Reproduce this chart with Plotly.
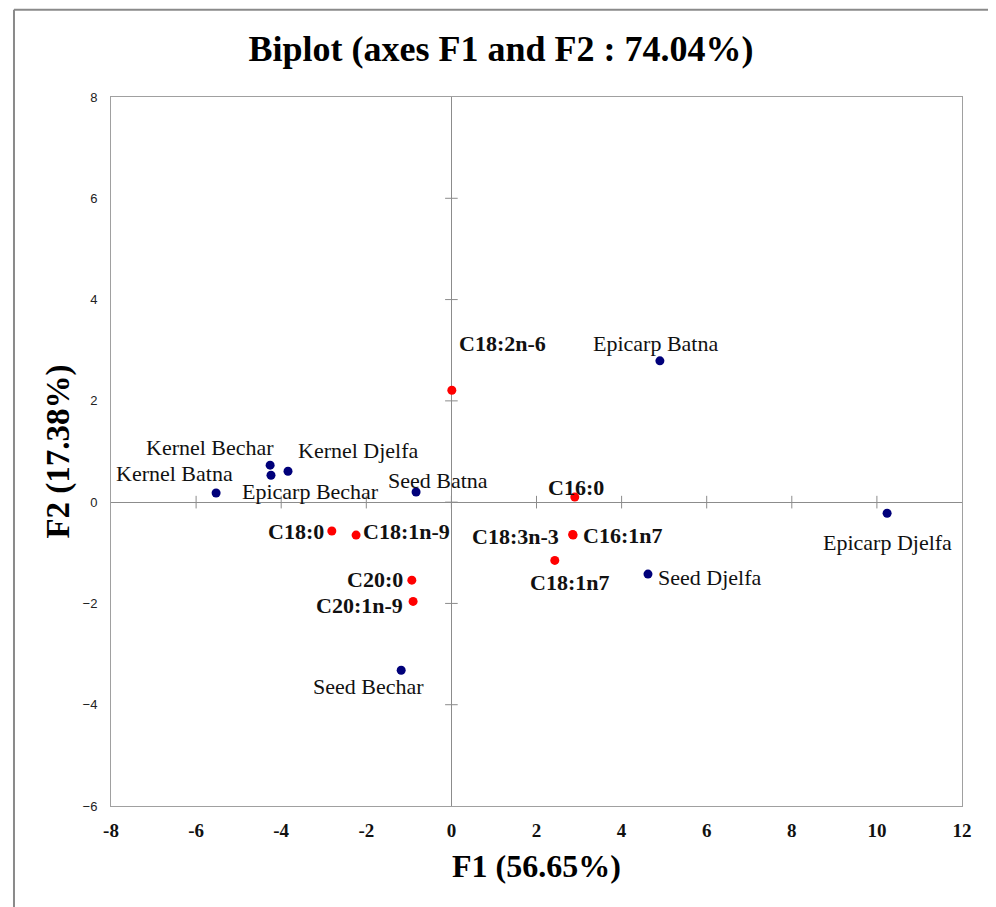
import plotly.graph_objects as go

# Observations (samples)
obs_names = ["Kernel Batna", "Kernel Bechar", "Epicarp Bechar", "Kernel Djelfa", "Seed Batna",
             "Epicarp Batna", "Epicarp Djelfa", "Seed Djelfa", "Seed Bechar"]
obs_f1 = [-5.53, -4.26, -4.24, -3.84, -0.83, 4.90, 10.24, 4.62, -1.18]
obs_f2 = [0.18, 0.73, 0.53, 0.61, 0.20, 2.79, -0.22, -1.42, -3.32]

# Variables (fatty acids)
var_names = ["C18:2n-6", "C16:0", "C18:3n-3", "C16:1n7", "C18:1n7", "C18:0", "C18:1n-9", "C20:0", "C20:1n-9"]
var_f1 = [0.01, 2.90, 2.85, 2.86, 2.43, -2.81, -2.24, -0.93, -0.90]
var_f2 = [2.21, 0.10, -0.64, -0.65, -1.15, -0.57, -0.65, -1.54, -1.96]

x_ticks = [-8, -6, -4, -2, 0, 2, 4, 6, 8, 10, 12]
y_ticks = [-6, -4, -2, 0, 2, 4, 6, 8]

title_text = "Biplot (axes F1 and F2 : 74.04%)"
x_title = "F1 (56.65%)"
y_title = "F2 (17.38%)"

# label placement: (xanchor, xshift, yshift)
obs_label_pos = {
    "Kernel Batna": ("center", -42, 20),
    "Kernel Bechar": ("center", -60, 18),
    "Epicarp Bechar": ("center", 40, -16),
    "Kernel Djelfa": ("center", 70, 21),
    "Seed Batna": ("center", 22, 12),
    "Epicarp Batna": ("center", -4, 17),
    "Epicarp Djelfa": ("center", 0, -29),
    "Seed Djelfa": ("left", 8, -3),
    "Seed Bechar": ("center", -33, -16),
}
var_label_pos = {
    "C18:2n-6": ("center", 51, 47),
    "C16:0": ("center", 1, 10),
    "C18:3n-3": ("right", -12, -2),
    "C16:1n7": ("left", 8, 0),
    "C18:1n7": ("center", 15, -22),
    "C18:0": ("right", -6, 0),
    "C18:1n-9": ("left", 5, 4),
    "C20:0": ("right", -7, 1),
    "C20:1n-9": ("right", -8, -4),
}

AX = "#8c8c8c"
LBL = 22
fig = go.Figure()

# tick crosses on the zero axes
fig.add_trace(go.Scatter(x=[t for t in x_ticks if t not in (-8, 12)], y=[0] * (len(x_ticks) - 2),
                         mode="markers", marker=dict(symbol="line-ns", size=9, line=dict(color=AX, width=1)),
                         hoverinfo="skip", showlegend=False))
fig.add_trace(go.Scatter(x=[0] * (len(y_ticks) - 2), y=[t for t in y_ticks if t not in (-6, 8)],
                         mode="markers", marker=dict(symbol="line-ew", size=9, line=dict(color=AX, width=1)),
                         hoverinfo="skip", showlegend=False))

fig.add_trace(go.Scatter(x=obs_f1, y=obs_f2, mode="markers", name="Observations",
                         marker=dict(color="#00007a", size=9), showlegend=False))
fig.add_trace(go.Scatter(x=var_f1, y=var_f2, mode="markers", name="Variables",
                         marker=dict(color="#ff0000", size=9), showlegend=False))

for n, x, y in zip(obs_names, obs_f1, obs_f2):
    xa, xs, ys = obs_label_pos[n]
    fig.add_annotation(x=x, y=y, text=n, showarrow=False, xanchor=xa, yanchor="middle",
                       xshift=xs, yshift=ys,
                       font=dict(family="Liberation Serif", size=LBL, color="#111111"))
for n, x, y in zip(var_names, var_f1, var_f2):
    xa, xs, ys = var_label_pos[n]
    fig.add_annotation(x=x, y=y, text="<b>" + n + "</b>", showarrow=False, xanchor=xa, yanchor="middle",
                       xshift=xs, yshift=ys,
                       font=dict(family="Liberation Serif", size=LBL, color="#111111"))

# outer border (left and top edges of the chart area)
fig.add_shape(type="line", xref="paper", yref="paper", x0=-0.114, x1=1.06, y0=1.123, y1=1.123,
              line=dict(color="#8a8a8a", width=2))
fig.add_shape(type="line", xref="paper", yref="paper", x0=-0.114, x1=-0.114, y0=1.123, y1=-0.2,
              line=dict(color="#8a8a8a", width=2))

fig.update_layout(
    width=996, height=907,
    margin=dict(l=103, r=42, t=89, b=109),
    paper_bgcolor="white", plot_bgcolor="white",
    title=dict(text="<b>" + title_text + "</b>", x=0.495, xanchor="center", y=0.956, yanchor="middle",
               font=dict(family="Liberation Serif", size=36, color="#000000")),
    xaxis=dict(range=[-8, 12], tickvals=x_ticks, ticktext=["<b>%d</b>" % t for t in x_ticks],
               showgrid=False, zeroline=True, zerolinecolor=AX, zerolinewidth=1,
               showline=True, mirror=True, linecolor="#a0a0a0", linewidth=1, ticks="",
               ticklabelstandoff=7,
               tickfont=dict(family="Liberation Serif", size=19, color="#111111"),
               title=dict(text="<b>" + x_title + "</b>", standoff=14,
                          font=dict(family="Liberation Serif", size=32, color="#000000"))),
    yaxis=dict(range=[-6, 8], tickvals=y_ticks,
               showgrid=False, zeroline=True, zerolinecolor=AX, zerolinewidth=1,
               showline=True, mirror=True, linecolor="#a0a0a0", linewidth=1, ticks="",
               ticklabelstandoff=10,
               tickfont=dict(family="Liberation Sans", size=13, color="#222222"),
               title=dict(text="<b>" + y_title + "</b>", standoff=3,
                          font=dict(family="Liberation Serif", size=33, color="#000000"))),
)

fig.write_html("out.html")
